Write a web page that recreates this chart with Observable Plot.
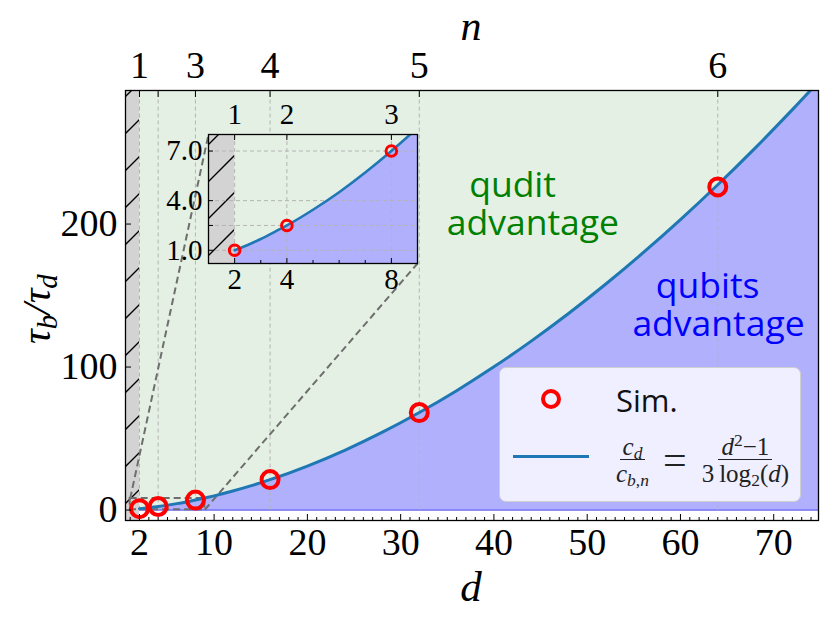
<!DOCTYPE html>
<html><head><meta charset="utf-8">
<script src="https://cdn.jsdelivr.net/npm/d3@7"></script>
<script src="https://cdn.jsdelivr.net/npm/@observablehq/plot@0.6"></script>
<style>
body{margin:0;background:#fff;}
#wrap{position:relative;width:830px;height:620px;overflow:hidden;}
#main{position:absolute;left:0;top:0;}
#inset{position:absolute;left:148px;top:94px;}
#legend{position:absolute;left:499px;top:367px;width:302px;height:135px;box-sizing:border-box;background:rgba(255,255,255,0.8);border:1.5px solid #cfcfcf;border-radius:7px;}
#legend svg{position:absolute;left:0;top:0;}
.sim{position:absolute;left:116px;top:14px;font-family:"Open Sans",sans-serif;font-size:31px;line-height:36px;color:#111;}
.formula{position:absolute;left:113px;top:64px;height:56px;display:flex;align-items:center;font-family:"Liberation Serif",serif;color:#222;font-size:25px;}
.frac{display:inline-flex;flex-direction:column;align-items:center;}
.frac .num{border-bottom:1.3px solid #222;padding:0 3px;line-height:25px;}
.frac .den{padding:0 3px;line-height:27px;}
.frac i{font-style:italic;}
.frac sub{font-size:0.7em;vertical-align:-0.25em;line-height:0;}
.frac sup{font-size:0.7em;vertical-align:0.5em;line-height:0;}
.eq{font-size:42px;margin:0 12px 0 11px;line-height:30px;}
</style></head><body>
<svg width="0" height="0" style="position:absolute">
  <defs>
    <pattern id="hatch" patternUnits="userSpaceOnUse" width="37" height="37">
      <path d="M-2,39 L39,-2 M-2,2 L2,-2 M35,39 L39,35" stroke="#000" stroke-width="1.4" fill="none"/>
    </pattern>
  </defs>
</svg>
<div id="wrap">
  <div id="main"></div>
  <div id="inset"></div>
  <div id="legend">
    <svg width="302" height="135">
      <circle cx="51" cy="31" r="8" fill="none" stroke="red" stroke-width="4"/>
      <line x1="13" x2="89" y1="88.5" y2="88.5" stroke="#1f77b4" stroke-width="3"/>
    </svg>
    <div class="sim">Sim.</div>
    <div class="formula">
      <span class="frac"><span class="num"><i>c</i><sub><i>d</i></sub></span><span class="den"><i>c</i><sub><i>b</i>,<i>n</i></sub></span></span>
      <span class="eq">=</span>
      <span class="frac"><span class="num"><i>d</i><sup>2</sup>−1</span><span class="den">3&#8201;log<sub>2</sub>(<i>d</i>)</span></span>
    </div>
  </div>
</div>
<script>
// ---- data ----
const curveD = [2,2.5,3,3.5,4,5,6,7,8,9,10,12,14,16,20,24,28,32,36,40,44,48,52,56,60,64,68,72,75];
const curveY = [1.0,1.32,1.68,2.08,2.5,3.45,4.51,5.70,7.0,8.41,9.93,13.30,17.07,21.25,30.77,41.80,54.29,68.2,83.49,100.15,118.15,137.45,158.06,179.95,203.10,227.5,253.14,280.01,300.97];
const simD = [2,4,8,16,32,64];
const simY = [1.0,2.5,7.0,21.3,68.2,226.0];
const xMajorTicks = [2,10,20,30,40,50,60,70];
const xMinorTicks = d3.range(1,75).filter(v => !xMajorTicks.includes(v));
const yMajorTicks = [0,100,200];
const nTickD = [2,4,8,16,32,64];
const nTickLabels = ["1","","3","4","5","6"];
const insetXTicks = [2,4,8];
const insetXMinor = [3,5,6,7];
const insetNLabels = ["1","2","3"];
const insetYTicks = [1,2.5,4,7];
const insetYLabels = ["1.0","","4.0","7.0"];
const dDomain = [0.5,74.8], yDomain = [-7.3,293.4];
const insetDDomain = [1,9], insetYDomain = [0.2,8];
const invalidD = 2;

const curve = curveD.map((d,i)=>({d, y: curveY[i]}));
const sim = simD.map((d,i)=>({d, y: simY[i]}));
const green = "#e4f0e4", blue = "#b0b0fd", lineC = "#1f77b4";

// layout
const M = {left:125, right:12, top:90, bottom:100, W:830, H:620};
const IF = {left:208, top:134, right:417, bottom:263};
const xS = d3.scaleLinear(dDomain,[M.left, M.W-M.right]);
const yS = d3.scaleLinear(yDomain,[M.H-M.bottom, M.top]);
const connectors = [
  {x1: insetDDomain[0], y1: insetYDomain[1], x2: xS.invert(IF.left), y2: yS.invert(IF.top)},
  {x1: insetDDomain[1], y1: insetYDomain[0], x2: xS.invert(IF.right), y2: yS.invert(IF.bottom)}
];

const main = Plot.plot({
  width:M.W, height:M.H, marginLeft:M.left, marginRight:M.right, marginTop:M.top, marginBottom:M.bottom,
  x:{domain:dDomain}, y:{domain:yDomain},
  style:{fontFamily:"Liberation Serif", fontSize:"38px", background:"transparent", color:"black", overflow:"visible"},
  marks:[
    Plot.areaY(curve,{x:"d", y1:"y", y2:yDomain[1], fill:green, curve:"monotone-x", clip:true}),
    Plot.areaY(curve,{x:"d", y1:0, y2:"y", fill:blue, curve:"monotone-x", clip:true}),
    Plot.ruleY([0],{x1:invalidD, x2:dDomain[1], stroke:"#6a6af5", strokeWidth:1.5}),
    Plot.rect([0],{x1:dDomain[0], x2:invalidD, y1:yDomain[0], y2:yDomain[1], fill:"#d3d3d3"}),
    Plot.rect([0],{x1:dDomain[0], x2:invalidD, y1:yDomain[0], y2:yDomain[1], fill:"url(#hatch)"}),
    Plot.ruleX(nTickD,{y1:0, y2:yDomain[1], stroke:"#b4b4b4", strokeDasharray:"4,3", strokeWidth:1}),
    Plot.rect([0],{x1:insetDDomain[0], x2:insetDDomain[1], y1:insetYDomain[0], y2:insetYDomain[1], stroke:"#6e6e6e", strokeDasharray:"7,4", strokeWidth:2, fill:"none"}),
    Plot.link(connectors,{x1:"x1", y1:"y1", x2:"x2", y2:"y2", stroke:"#6e6e6e", strokeDasharray:"7,4", strokeWidth:2}),
    Plot.line(curve,{x:"d", y:"y", stroke:lineC, strokeWidth:3, curve:"monotone-x", clip:true}),
    Plot.dot(sim,{x:"d", y:"y", r:8.5, stroke:"red", strokeWidth:4, fill:"none"}),
    Plot.frame({stroke:"black", strokeWidth:1.3}),
    Plot.axisX({anchor:"bottom", ticks:xMajorTicks, tickSize:-6, tickPadding:14, label:null}),
    Plot.axisX({anchor:"bottom", ticks:xMinorTicks, tickSize:-3, tickFormat:()=>"", label:null}),
    Plot.axisX({anchor:"top", ticks:nTickD, tickSize:-6, tickPadding:19, tickFormat:d=>nTickLabels[nTickD.indexOf(d)], label:null}),
    Plot.axisY({anchor:"left", ticks:yMajorTicks, tickSize:-6, tickPadding:14, label:null})
  ]
});
document.getElementById("main").appendChild(main);

const svg = d3.select(main);
// region annotations (two-line labels, each one text element)
function regionLabel(lines, color){
  const t = svg.append("text").attr("text-anchor","start").attr("font-family","Open Sans").attr("font-size",35.5).attr("fill",color);
  lines.forEach(([s,d,v]) => t.append("tspan").attr("x", xS(d)).attr("y", yS(v)).text(s));
}
regionLabel([["qudit",37.4,218.5],["advantage",35.0,192]], "green");
regionLabel([["qubits",57.4,148],["advantage",54.9,121.5]], "#0000ff");

const lab = svg.append("text").attr("transform","translate(50,309) rotate(-90)")
  .attr("text-anchor","middle").attr("font-family","Liberation Serif").attr("font-style","italic").attr("font-size",41).attr("fill","black");
lab.append("tspan").text("τ");
lab.append("tspan").attr("font-size",29).attr("dy",7).text("b");
lab.append("tspan").attr("dy",-7).text("/τ");
lab.append("tspan").attr("font-size",29).attr("dy",7).text("d");
svg.append("text").attr("x",471).attr("y",601).attr("text-anchor","middle")
  .attr("font-family","Liberation Serif").attr("font-style","italic").attr("font-size",43).text("d");
svg.append("text").attr("x",471).attr("y",40).attr("text-anchor","middle")
  .attr("font-family","Liberation Serif").attr("font-style","italic").attr("font-size",42).text("n");

const insetCurve = curve.filter(p => p.d <= 10);
const insetSim = sim.filter(p => p.d <= 9);
const inset = Plot.plot({
  width:279, height:209, marginLeft:60, marginRight:10, marginTop:40, marginBottom:40,
  x:{domain:insetDDomain}, y:{domain:insetYDomain},
  style:{fontFamily:"Liberation Serif", fontSize:"29px", background:"transparent", color:"black", overflow:"visible"},
  marks:[
    Plot.frame({fill:green}),
    Plot.areaY(insetCurve,{x:"d", y1:0, y2:"y", fill:blue, curve:"monotone-x", clip:true}),
    Plot.rect([0],{x1:insetDDomain[0], x2:invalidD, y1:insetYDomain[0], y2:insetYDomain[1], fill:"#d3d3d3"}),
    Plot.rect([0],{x1:insetDDomain[0], x2:invalidD, y1:insetYDomain[0], y2:insetYDomain[1], fill:"url(#hatch)"}),
    Plot.ruleX(insetXTicks,{stroke:"#b4b4b4", strokeDasharray:"4,3", strokeWidth:1}),
    Plot.ruleY(insetYTicks,{stroke:"#b4b4b4", strokeDasharray:"4,3", strokeWidth:1}),
    Plot.line(insetCurve,{x:"d", y:"y", stroke:lineC, strokeWidth:2.6, curve:"monotone-x", clip:true}),
    Plot.dot(insetSim,{x:"d", y:"y", r:5.3, stroke:"red", strokeWidth:3, fill:"none"}),
    Plot.frame({stroke:"black", strokeWidth:1.3}),
    Plot.axisX({anchor:"bottom", ticks:insetXTicks, tickSize:-5, tickPadding:10, label:null}),
    Plot.axisX({anchor:"bottom", ticks:insetXMinor, tickSize:-3, tickFormat:()=>"", label:null}),
    Plot.axisX({anchor:"top", ticks:insetXTicks, tickSize:-5, tickPadding:16, tickFormat:d=>insetNLabels[insetXTicks.indexOf(d)], label:null}),
    Plot.axisY({anchor:"left", ticks:insetYTicks, tickSize:-5, tickPadding:11, tickFormat:d=>insetYLabels[insetYTicks.indexOf(d)], label:null})
  ]
});
document.getElementById("inset").appendChild(inset);
</script>
</body></html>
